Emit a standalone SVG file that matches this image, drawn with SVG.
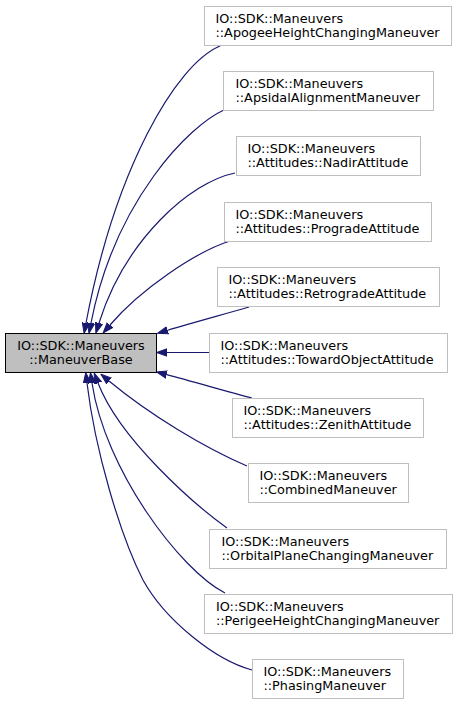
<svg xmlns="http://www.w3.org/2000/svg" width="457" height="705" viewBox="0 0 457 705">
<style>
.n rect{fill:#ffffff;stroke:#bfbfbf;stroke-width:1}
.b rect{fill:#bfbfbf;stroke:#000000;stroke-width:1}
text{font-family:"DejaVu Sans",sans-serif;font-size:12.8px;fill:#000000}
.e path{fill:none;stroke:#191970;stroke-width:1.2;marker-end:url(#ah)}
</style>
<defs>
<marker id="ah" markerUnits="userSpaceOnUse" markerWidth="11" markerHeight="9" refX="0" refY="4.5" orient="auto" viewBox="0 0 11 9">
<path d="M0,0.8 L10.5,4.5 L0,8.2 z" fill="#191970" stroke="#191970" stroke-width="1"/>
</marker>
</defs>
<rect width="457" height="705" fill="#ffffff"/>
<g id="connectors" class="e">
<path d="M220,46 C175,65 115,170 86,323"/>
<path d="M224,110 C190,125 115,200 91,323"/>
<path d="M235,173 C190,182 125,240 99,323"/>
<path d="M230,241 C195,252 140,290 110,325"/>
<path d="M249,307 C225,314 195,322 167.6,330.2"/>
<path d="M209,352.5 L167,352.5"/>
<path d="M252,398 C228,392 195,382 166.6,374.6"/>
<path d="M247,466 C205,448 150,415 109,381"/>
<path d="M227,528 C195,505 120,440 98,383"/>
<path d="M225,593 C180,570 105,470 92,383"/>
<path d="M252,670 C215,660 165,620 143,580 C120,535 95,450 87,383"/>
</g>
<g id="ManeuverBase" class="b"><rect x="5.5" y="333.5" width="151" height="39"/><text x="81" y="350" text-anchor="middle">IO::SDK::Maneuvers</text><text x="81" y="364" text-anchor="middle">::ManeuverBase</text></g>
<g id="ApogeeHeightChangingManeuver" class="n"><rect x="204.5" y="6.5" width="247" height="39"/><text x="215.5" y="23">IO::SDK::Maneuvers</text><text x="215.5" y="37">::ApogeeHeightChangingManeuver</text></g>
<g id="ApsidalAlignmentManeuver" class="n"><rect x="223.5" y="71.5" width="210" height="39"/><text x="235.5" y="88">IO::SDK::Maneuvers</text><text x="235.5" y="102">::ApsidalAlignmentManeuver</text></g>
<g id="NadirAttitude" class="n"><rect x="236.5" y="136.5" width="184" height="39"/><text x="247.5" y="153">IO::SDK::Maneuvers</text><text x="247.5" y="167">::Attitudes::NadirAttitude</text></g>
<g id="ProgradeAttitude" class="n"><rect x="224.5" y="202.5" width="207" height="39"/><text x="235.5" y="219">IO::SDK::Maneuvers</text><text x="235.5" y="233">::Attitudes::ProgradeAttitude</text></g>
<g id="RetrogradeAttitude" class="n"><rect x="217.5" y="267.5" width="222" height="39"/><text x="228.5" y="284">IO::SDK::Maneuvers</text><text x="228.5" y="298">::Attitudes::RetrogradeAttitude</text></g>
<g id="TowardObjectAttitude" class="n"><rect x="209.5" y="333.5" width="238" height="39"/><text x="220.5" y="350">IO::SDK::Maneuvers</text><text x="220.5" y="364">::Attitudes::TowardObjectAttitude</text></g>
<g id="ZenithAttitude" class="n"><rect x="232.5" y="398.5" width="191" height="39"/><text x="243.5" y="415">IO::SDK::Maneuvers</text><text x="243.5" y="429">::Attitudes::ZenithAttitude</text></g>
<g id="CombinedManeuver" class="n"><rect x="248.5" y="463.5" width="160" height="39"/><text x="259.5" y="480">IO::SDK::Maneuvers</text><text x="259.5" y="494">::CombinedManeuver</text></g>
<g id="OrbitalPlaneChangingManeuver" class="n"><rect x="209.5" y="529.5" width="237" height="39"/><text x="221.5" y="546">IO::SDK::Maneuvers</text><text x="221.5" y="560">::OrbitalPlaneChangingManeuver</text></g>
<g id="PerigeeHeightChangingManeuver" class="n"><rect x="204.5" y="594.5" width="248" height="39"/><text x="216" y="611">IO::SDK::Maneuvers</text><text x="216" y="625">::PerigeeHeightChangingManeuver</text></g>
<g id="PhasingManeuver" class="n"><rect x="252.5" y="659.5" width="151" height="39"/><text x="263.5" y="676">IO::SDK::Maneuvers</text><text x="263.5" y="690">::PhasingManeuver</text></g>
</svg>
